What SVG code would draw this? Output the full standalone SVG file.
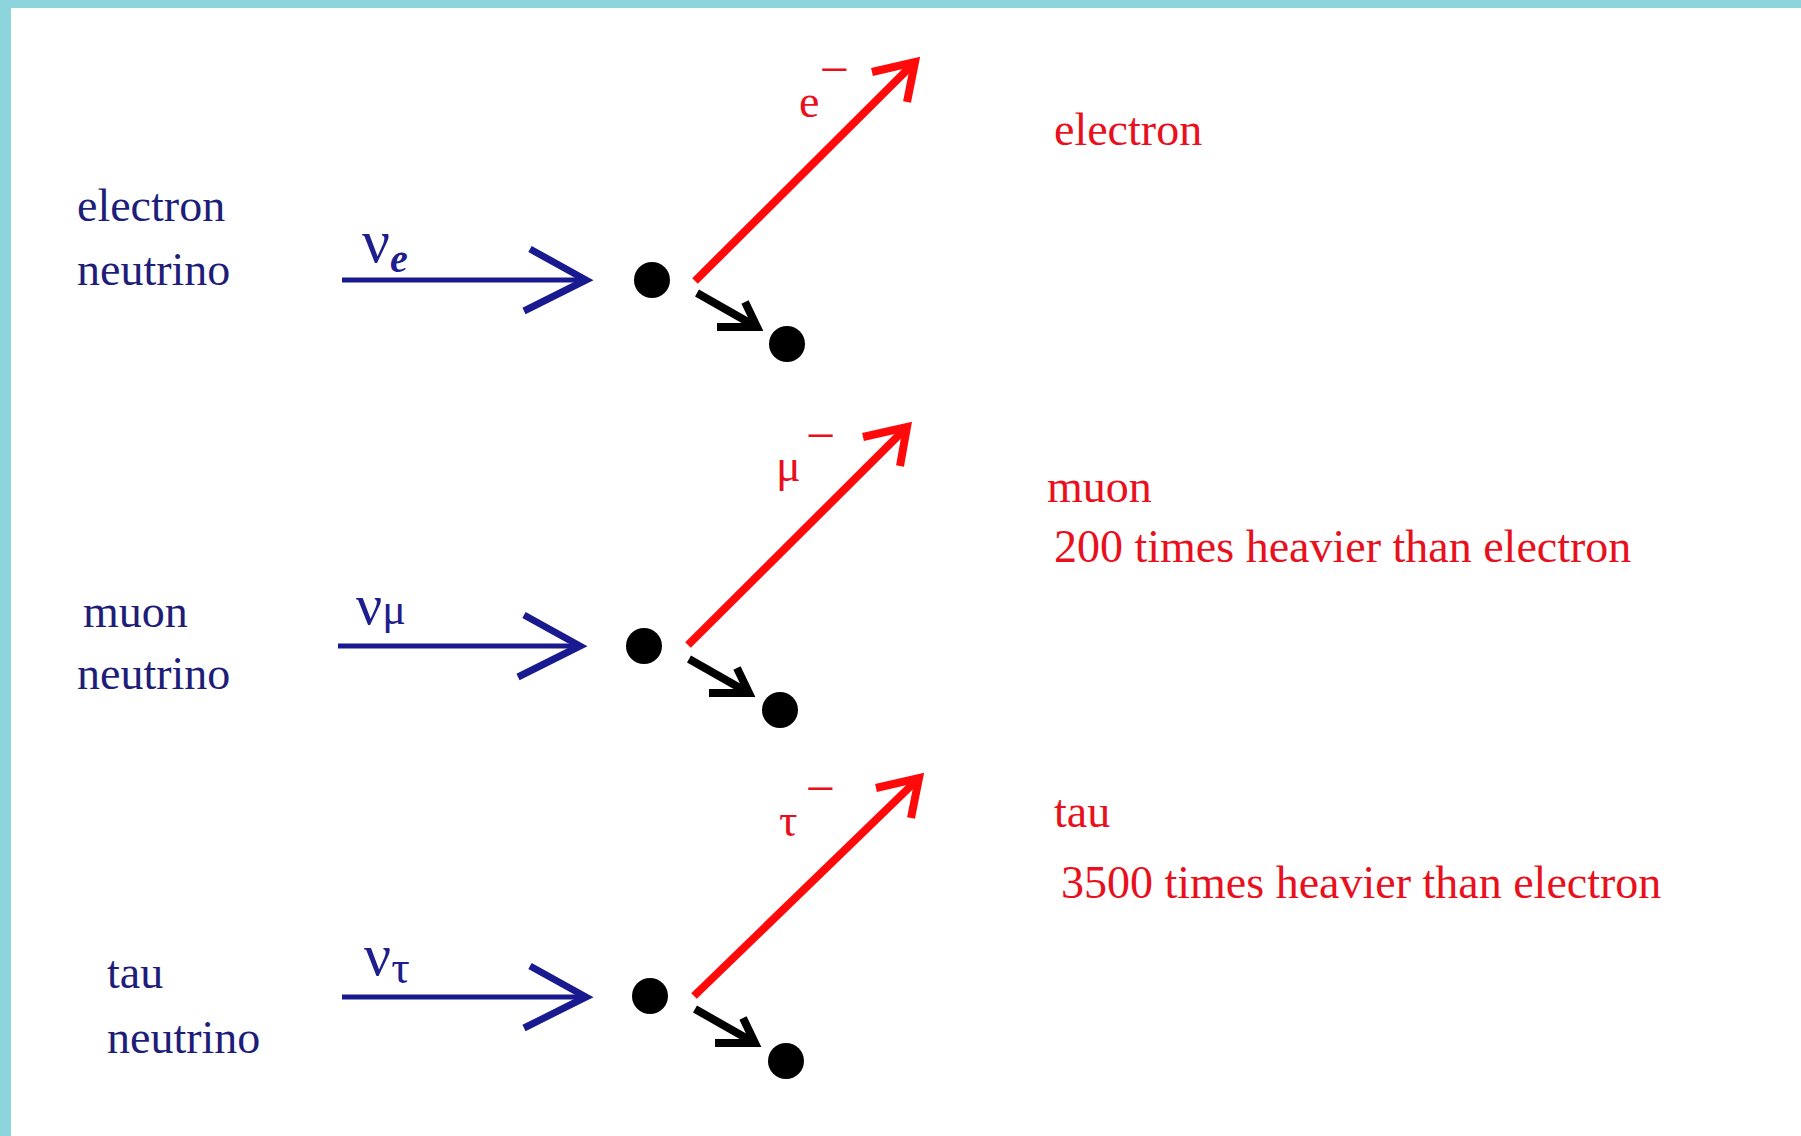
<svg xmlns="http://www.w3.org/2000/svg" width="1801" height="1136" viewBox="0 0 1801 1136">
<style>
.lbl{font-family:"Liberation Serif","Times New Roman",serif;font-size:46px}
.blue{fill:#1e1e78}
.red{fill:#e8101c}
.greek{font-family:"Liberation Serif","Times New Roman",serif;fill:#1e1e8c}
.bl{stroke:#1a1a90;fill:none;stroke-linecap:butt}
.rd{stroke:#ff0a0a;fill:none;stroke-width:8;stroke-linejoin:miter}
.bk{stroke:#000;fill:none;stroke-width:8}
.dot{fill:#000}
</style>
<rect x="0" y="0" width="1801" height="1136" fill="#ffffff"/>
<rect x="0" y="0" width="1801" height="8" fill="#8ed4dc"/>
<rect x="0" y="0" width="11" height="1136" fill="#8ed4dc"/>

<g id="connectors">
  <!-- row 1 -->
  <line class="bl" x1="342" y1="280" x2="584" y2="280" stroke-width="5"/>
  <polyline class="bl" points="530,249 586,280 524,311" stroke-width="7"/>
  <line class="rd" x1="695" y1="281" x2="913" y2="64"/>
  <polyline class="rd" points="872,72 915,62 907,102"/>
  <line class="bk" x1="697" y1="293" x2="755" y2="326"/>
  <polyline class="bk" points="745,302 757,327 717,327"/>
  <!-- row 2 -->
  <line class="bl" x1="338" y1="646" x2="578" y2="646" stroke-width="5"/>
  <polyline class="bl" points="524,615 580,646 518,677" stroke-width="7"/>
  <line class="rd" x1="688" y1="645" x2="905" y2="429"/>
  <polyline class="rd" points="863,437 907,427 900,466"/>
  <line class="bk" x1="689" y1="659" x2="747" y2="692"/>
  <polyline class="bk" points="737,668 749,693 709,693"/>
  <!-- row 3 -->
  <line class="bl" x1="342" y1="997" x2="584" y2="997" stroke-width="5"/>
  <polyline class="bl" points="530,966 586,997 524,1028" stroke-width="7"/>
  <line class="rd" x1="694" y1="996" x2="917" y2="780"/>
  <polyline class="rd" points="876,788 919,778 911,818"/>
  <line class="bk" x1="695" y1="1009" x2="753" y2="1042"/>
  <polyline class="bk" points="743,1018 755,1043 715,1043"/>
</g>

<g id="row1-incoming">
  <text class="lbl blue" x="77" y="221">electron</text>
  <text class="lbl blue" x="77" y="285">neutrino</text>
  <text class="greek" x="362" y="262" font-size="62">ν<tspan font-size="40" font-style="italic" font-weight="bold" dx="0" dy="10">e</tspan></text>
</g>
<g id="row1-vertex"><circle class="dot" cx="652" cy="280" r="18"/></g>
<g id="row1-recoil"><circle class="dot" cx="787" cy="344" r="18"/></g>
<g id="row1-lepton">
  <text class="lbl red" x="799" y="117" font-size="54">e<tspan font-size="52" dx="0" dy="-30">−</tspan></text>
</g>
<g id="row1-desc">
  <text class="lbl red" x="1054" y="145">electron</text>
</g>

<g id="row2-incoming">
  <text class="lbl blue" x="83" y="627">muon</text>
  <text class="lbl blue" x="77" y="689">neutrino</text>
  <text class="greek" x="356" y="624" font-size="58">ν<tspan font-size="44" dx="0" dy="0">μ</tspan></text>
</g>
<g id="row2-vertex"><circle class="dot" cx="644" cy="646" r="18"/></g>
<g id="row2-recoil"><circle class="dot" cx="780" cy="710" r="18"/></g>
<g id="row2-lepton">
  <text class="lbl red" x="776" y="481" font-size="50">μ<tspan font-size="52" dx="5" dy="-28">−</tspan></text>
</g>
<g id="row2-desc">
  <text class="lbl red" x="1047" y="502">muon</text>
  <text class="lbl red" x="1054" y="562">200 times heavier than electron</text>
</g>

<g id="row3-incoming">
  <text class="lbl blue" x="107" y="988">tau</text>
  <text class="lbl blue" x="107" y="1053">neutrino</text>
  <text class="greek" x="364" y="975" font-size="60">ν<tspan font-size="46" dx="0" dy="8">τ</tspan></text>
</g>
<g id="row3-vertex"><circle class="dot" cx="650" cy="996" r="18"/></g>
<g id="row3-recoil"><circle class="dot" cx="786" cy="1061" r="18"/></g>
<g id="row3-lepton">
  <text class="lbl red" x="779" y="836" font-size="56">τ<tspan font-size="52" dx="8" dy="-30">−</tspan></text>
</g>
<g id="row3-desc">
  <text class="lbl red" x="1054" y="827">tau</text>
  <text class="lbl red" x="1061" y="898">3500 times heavier than electron</text>
</g>
</svg>
